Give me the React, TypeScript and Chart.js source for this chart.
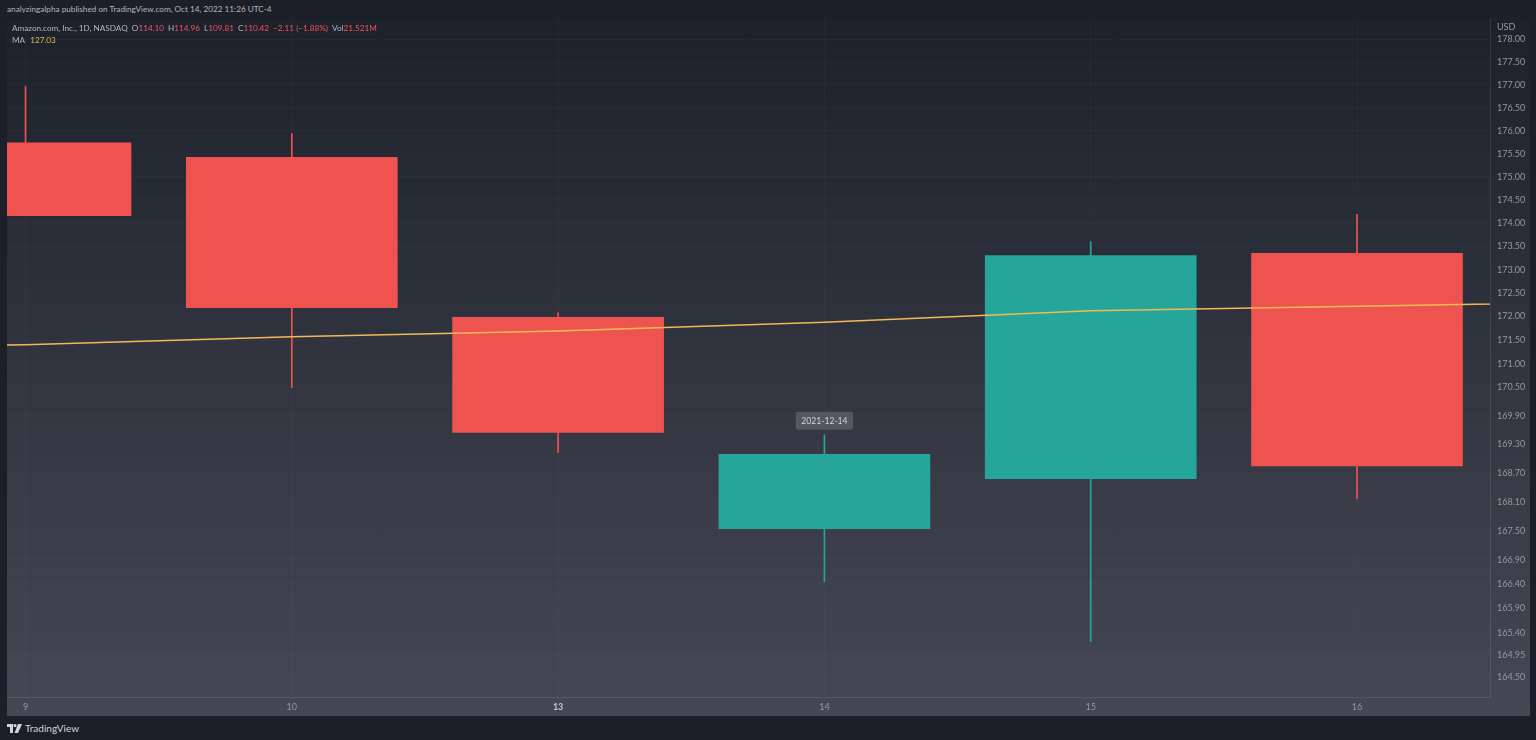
import React, { useEffect, useRef } from 'react';
import { Chart, registerables } from 'chart.js';

Chart.register(...registerables);

// ---- data ----
const xLabels = ['9', '10', '13', '14', '15', '16'];
const majorLabel = '13';
const dates = ['2021-12-09', '2021-12-10', '2021-12-13', '2021-12-14', '2021-12-15', '2021-12-16'];
const opens = [175.74, 175.42, 171.98, 167.54, 168.58, 173.35];
const highs = [176.97, 175.94, 172.08, 169.5, 173.6, 174.19];
const lows = [174.16, 170.49, 169.13, 166.45, 165.22, 168.17];
const closes = [174.16, 172.19, 169.55, 169.09, 173.3, 168.85];
const maDays = ['8', '9', '10', '13', '14', '15', '16', '17'];
const maValues = [171.32, 171.4, 171.57, 171.69, 171.88, 172.12, 172.22, 172.31];
const yTicks = [
  178.0, 177.5, 177.0, 176.5, 176.0, 175.5, 175.0, 174.5, 174.0, 173.5, 173.0, 172.5,
  172.0, 171.5, 171.0, 170.5, 169.9, 169.3, 168.7, 168.1, 167.5, 166.9, 166.4, 165.9,
  165.4, 164.95, 164.5,
];
const highlightedDate = '2021-12-14';
const yMin = 164.087;
const yMax = 178.474;
const xMin = -0.0695;
const xMax = 5.4994;

const RED = '#ef5350';
const GREEN = '#26a69a';
const MA_COLOR = '#f0bb55';
const FONT = 'Lato, "Open Sans", sans-serif';
const TICK_COLOR = '#9598a1';
const GRID = 'rgba(255,255,255,0.022)';

export default function App() {
  const ref = useRef<HTMLCanvasElement>(null);

  useEffect(() => {
    const canvas = ref.current;
    if (!canvas) return;
    const idx = xLabels.map((_, i) => i);
    const colors = idx.map((i) => (closes[i] >= opens[i] ? GREEN : RED));

    const bgPlugin = {
      id: 'bgGradient',
      beforeDraw(chart: any) {
        const c = chart.ctx;
        const g = c.createLinearGradient(0, 0, 0, chart.height);
        g.addColorStop(0, '#1d212b');
        g.addColorStop(1, '#454854');
        c.save();
        c.fillStyle = g;
        c.fillRect(0, 0, chart.width, chart.height);
        c.restore();
      },
    };

    const tipPlugin = {
      id: 'dateTip',
      afterDatasetsDraw(chart: any) {
        const i = dates.indexOf(highlightedDate);
        if (i < 0) return;
        const xs = chart.scales.x;
        const ys = chart.scales.y;
        const cx = xs.getPixelForValue(i);
        const top = ys.getPixelForValue(highs[i]);
        const c = chart.ctx;
        c.save();
        c.font = `8.6px ${FONT}`;
        const w = c.measureText(highlightedDate).width + 11;
        const h = 18;
        const cy = top - 14;
        c.fillStyle = 'rgba(84,88,100,0.95)';
        c.beginPath();
        (c as any).roundRect(cx - w / 2, cy - h / 2, w, h, 2);
        c.fill();
        c.fillStyle = '#d1d4dc';
        c.textAlign = 'center';
        c.textBaseline = 'middle';
        c.fillText(highlightedDate, cx, cy + 0.5);
        c.restore();
      },
    };

    const zeroPad = (s: any) => {
      s.paddingTop = 0;
      s.paddingBottom = 0;
      s.paddingLeft = 0;
      s.paddingRight = 0;
    };

    const chart = new Chart(canvas, {
      type: 'bar',
      data: {
        datasets: [
          {
            type: 'line',
            data: maDays.map((_, k) => ({ x: k - 1, y: maValues[k] })),
            borderColor: MA_COLOR,
            borderWidth: 1.5,
            pointRadius: 0,
            tension: 0,
            order: 0,
            clip: 0,
          } as any,
          {
            type: 'bar',
            data: idx.map((i) => ({ x: i, y: [opens[i], closes[i]] })),
            backgroundColor: colors,
            borderWidth: 0,
            barThickness: 211,
            grouped: false,
            order: 1,
            clip: 0,
          } as any,
          {
            type: 'bar',
            data: idx.map((i) => ({ x: i, y: [lows[i], highs[i]] })),
            backgroundColor: colors,
            borderWidth: 0,
            barThickness: 1,
            grouped: false,
            order: 2,
            clip: 0,
          } as any,
        ],
      },
      options: {
        animation: false,
        responsive: false,
        maintainAspectRatio: false,
        events: [],
        layout: { padding: 0, autoPadding: false },
        plugins: { legend: { display: false }, tooltip: { enabled: false } },
        scales: {
          x: {
            type: 'linear',
            min: xMin,
            max: xMax,
            offset: false,
            grid: { offset: false, color: GRID, drawTicks: false },
            border: { color: 'rgba(255,255,255,0.09)' },
            ticks: {
              padding: 5,
              autoSkip: false,
              maxRotation: 0,
              color: (c: any) => (xLabels[c.tick?.value] === majorLabel ? '#c4c7cf' : TICK_COLOR),
              font: (c: any) => ({
                family: FONT,
                size: 9,
                weight: xLabels[c.tick?.value] === majorLabel ? 'bold' : 'normal',
              }),
              callback: (v: any) => xLabels[v] ?? '',
            },
            afterBuildTicks: (s: any) => {
              s.ticks = idx.map((v) => ({ value: v }));
            },
            afterFit: (s: any) => {
              s.height = 19;
              zeroPad(s);
            },
          } as any,
          y: {
            type: 'logarithmic',
            position: 'right',
            min: yMin,
            max: yMax,
            grid: { color: GRID, drawTicks: false },
            border: { color: 'rgba(255,255,255,0.09)' },
            ticks: {
              padding: 7,
              autoSkip: false,
              color: TICK_COLOR,
              font: { family: FONT, size: 9 },
              callback: (v: any) => Number(v).toFixed(2),
            },
            afterBuildTicks: (s: any) => {
              s.ticks = yTicks.map((v) => ({ value: v }));
            },
            afterFit: (s: any) => {
              s.width = 40;
              zeroPad(s);
            },
          } as any,
        },
      },
      plugins: [bgPlugin, tipPlugin],
    } as any);

    return () => chart.destroy();
  }, []);

  const red = '#f7525f';
  const lbl = '#b2b5be';
  return (
    <div
      style={{
        position: 'fixed',
        left: 0,
        top: 0,
        width: 1536,
        height: 740,
        background: '#1c1f28',
        overflow: 'hidden',
        fontFamily: FONT,
      }}
    >
      <div style={{ position: 'absolute', left: 7, top: 4, fontSize: 8.2, color: '#b2b5be', whiteSpace: 'nowrap' }}>
        analyzingalpha published on TradingView.com, Oct 14, 2022 11:26 UTC-4
      </div>
      <div style={{ position: 'absolute', left: 7, top: 18, width: 1523, height: 698 }}>
        <canvas ref={ref} width={1523} height={698} style={{ width: 1523, height: 698, display: 'block' }} />
      </div>
      <div
        style={{
          position: 'absolute',
          left: 12,
          top: 22,
          fontSize: 8.2,
          lineHeight: '12px',
          color: lbl,
          whiteSpace: 'nowrap',
        }}
      >
        <div>
          <span>Amazon.com, Inc., 1D, NASDAQ</span>
          <span style={{ marginLeft: 4 }}>O</span>
          <span style={{ color: red }}>114.10</span>
          <span style={{ marginLeft: 4 }}>H</span>
          <span style={{ color: red }}>114.96</span>
          <span style={{ marginLeft: 4 }}>L</span>
          <span style={{ color: red }}>109.81</span>
          <span style={{ marginLeft: 4 }}>C</span>
          <span style={{ color: red }}>110.42</span>
          <span style={{ marginLeft: 4, color: red }}>−2.11 (−1.88%)</span>
          <span style={{ marginLeft: 4 }}>Vol</span>
          <span style={{ color: red }}>21.521M</span>
        </div>
        <div>
          <span>MA</span>
          <span style={{ marginLeft: 5, color: '#e5b656' }}>127.03</span>
        </div>
      </div>
      <div style={{ position: 'absolute', left: 1497, top: 21, fontSize: 9, color: TICK_COLOR }}>USD</div>
      <div
        style={{
          position: 'absolute',
          left: 7,
          top: 722,
          display: 'flex',
          alignItems: 'center',
          gap: 3,
          color: '#d1d4dc',
          fontSize: 10,
        }}
      >
        <svg width="15" height="9" viewBox="0 0 15 9">
          <path d="M0 0 H6 V9 H3 V3 H0 Z" fill="#d1d4dc" />
          <circle cx="8" cy="1.6" r="1.6" fill="#d1d4dc" />
          <path d="M11 0 H15 L11 9 H7.5 Z" fill="#d1d4dc" />
        </svg>
        <span>TradingView</span>
      </div>
    </div>
  );
}
